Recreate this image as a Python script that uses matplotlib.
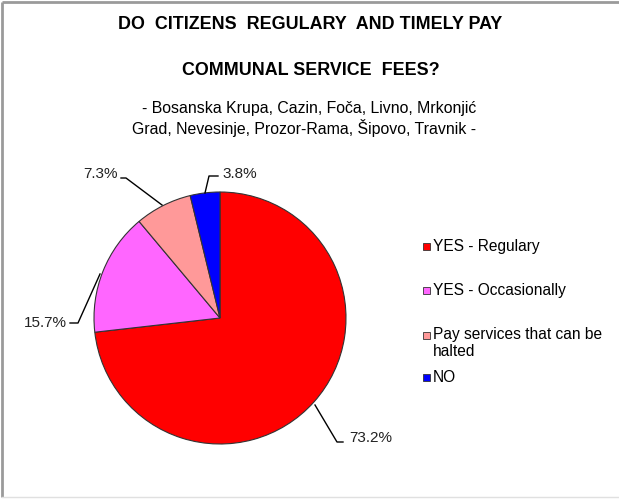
import matplotlib
matplotlib.use("Agg")
import matplotlib.pyplot as plt
from matplotlib.patches import Rectangle

plt.rcParams['font.family'] = ['Liberation Sans', 'DejaVu Sans']

categories = ["YES - Regulary", "YES - Occasionally", "Pay services that can be\nhalted", "NO"]
values = [73.2, 15.7, 7.3, 3.8]
value_labels = ["73.2%", "15.7%", "7.3%", "3.8%"]
colors = ["#FF0000", "#FF66FF", "#FF9999", "#0000FF"]

title_lines = ["DO  CITIZENS  REGULARY  AND TIMELY PAY", "COMMUNAL SERVICE  FEES?"]
subtitle_lines = ["- Bosanska Krupa, Cazin, Foča, Livno, Mrkonjić",
                  "Grad, Nevesinje, Prozor-Rama, Šipovo, Travnik -"]

W, H = 619, 499
fig = plt.figure(figsize=(W / 100, H / 100), dpi=100)
ax = fig.add_axes([0, 0, 1, 1])
ax.set_xlim(0, W)
ax.set_ylim(H, 0)
ax.axis('off')

# frame
ax.plot([2, 2], [2, 497], color='#9a9a9a', lw=2, solid_capstyle='butt')
ax.plot([2, 619], [2, 2], color='#9a9a9a', lw=2, solid_capstyle='butt')
ax.plot([2, 619], [497, 497], color='#e0e0e0', lw=1)

cx, cy, r = 220, 318, 126
# y axis is inverted, so counterclock=True draws clockwise on screen; startangle -90 is top
wedges, _ = ax.pie(values, colors=colors, startangle=-90, counterclock=True,
                   center=(cx, cy), radius=r,
                   wedgeprops=dict(edgecolor='#333333', linewidth=0.8))
ax.set_xlim(0, W)
ax.set_ylim(H, 0)
ax.set_aspect('auto')

# leader lines and labels (pixel layout)
leaders = [
    ([315, 337, 343], [405, 442, 442], (349, 438), 'left'),
    ([100, 78, 70], [274, 323, 323], (67, 323), 'right'),
    ([162, 126, 121], [205, 178, 178], (118, 174), 'right'),
    ([205, 209, 218], [193, 176, 176], (222, 174), 'left'),
]
for (xs, ys, (tx, ty), ha), lab in zip(leaders, value_labels):
    ax.plot(xs, ys, color='black', lw=1)
    ax.text(tx, ty, lab, ha=ha, va='center', fontsize=11, color='#222222')

# titles
ax.text(310, 24, title_lines[0], ha='center', va='center', fontsize=12.9, fontweight='bold')
ax.text(311, 70, title_lines[1], ha='center', va='center', fontsize=12.9, fontweight='bold')
ax.text(309, 108, subtitle_lines[0], ha='center', va='center', fontsize=11.4)
ax.text(304, 128, subtitle_lines[1], ha='center', va='center', fontsize=11.4)

# legend
leg_y = [246, 290, 343, 377]
for lab, col, y in zip(categories, colors, leg_y):
    first_line_y = y - 8 if '\n' in lab else y
    ax.add_patch(Rectangle((423, first_line_y - 3.5), 7, 7, facecolor=col, edgecolor='#333333', lw=0.6))
    ax.text(433, y, lab, ha='left', va='center', fontsize=11.2, linespacing=1.2)

fig.savefig('out.png', dpi=100)
